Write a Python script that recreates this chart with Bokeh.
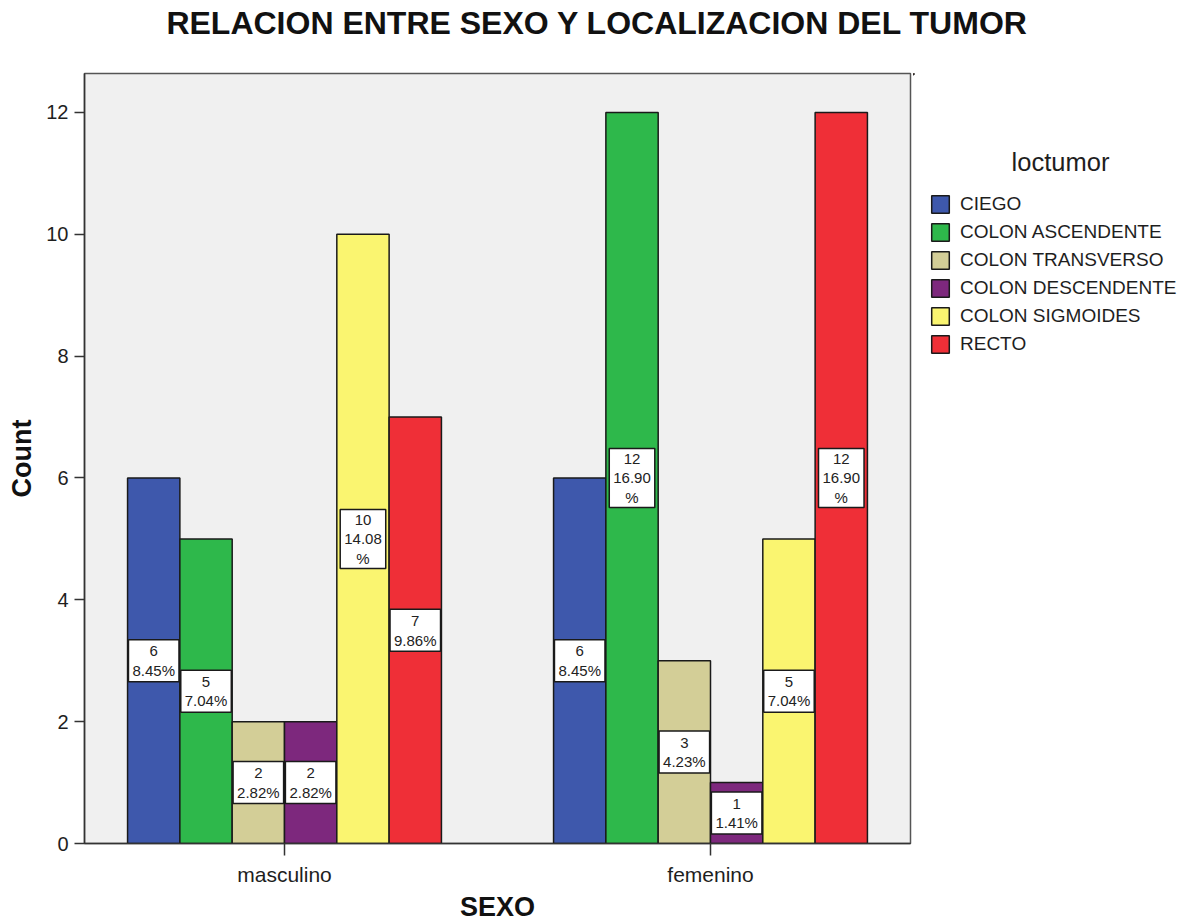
import numpy as np
from bokeh.plotting import figure
from bokeh.layouts import column, row
from bokeh.models import Range1d, FixedTicker, Legend, LegendItem, ColumnDataSource
from bokeh.core.properties import value
from bokeh.embed import file_html
from bokeh.resources import INLINE

# ---- data ----
title_text = "RELACION ENTRE SEXO Y LOCALIZACION DEL TUMOR"
x_title = "SEXO"
y_title = "Count"
legend_title = "loctumor"
sexes = ["masculino", "femenino"]
locations = ["CIEGO", "COLON ASCENDENTE", "COLON TRANSVERSO",
             "COLON DESCENDENTE", "COLON SIGMOIDES", "RECTO"]
masculino = [6, 5, 2, 2, 10, 7]
femenino = [6, 12, 3, 1, 5, 12]
y_ticks = [0, 2, 4, 6, 8, 10, 12]

colors = ["#3e58ac", "#2eb84b", "#d3ce97", "#7d287d", "#faf570", "#ef2f37"]
FONT = "Liberation Sans"
TXT = "#1e1e1e"

counts = np.array([masculino, femenino])
total = counts.sum()

# ---- layout (pixels) ----
W, H = 1190, 924
TOP_H = 71            # title strip height
MAIN_W = 913          # main figure width
FL, FR = 84, 910      # frame left / right
FT, FB = 73, 843      # frame top / bottom (page)

def blank(width, height):
    f = figure(width=width, height=height, output_backend="svg", toolbar_location=None,
               x_range=Range1d(0, width), y_range=Range1d(height, 0),
               x_axis_location=None, y_axis_location=None,
               min_border=0, min_border_left=0, min_border_right=0,
               min_border_top=0, min_border_bottom=0)
    f.grid.visible = False
    f.outline_line_color = None
    f.background_fill_color = "white"
    f.border_fill_color = "white"
    f.title.visible = False
    return f

# title strip
tf = blank(W, TOP_H)
tf.text(x=[597], y=[22], text=[title_text], text_align="center", text_baseline="middle",
        text_font=value(FONT), text_font_size="32px", text_font_style="bold",
        text_color="#111111")

# main chart
MH = H - TOP_H
p = figure(width=MAIN_W, height=MH, output_backend="svg", toolbar_location=None,
           x_range=Range1d(-0.4695, 1.4695), y_range=Range1d(0, 12.64),
           min_border_left=FL, min_border_right=MAIN_W - FR,
           min_border_top=FT - TOP_H, min_border_bottom=MH - (FB - TOP_H))
p.title.visible = False
p.background_fill_color = "#f0f0f0"
p.border_fill_color = "white"
p.outline_line_color = "#555555"
p.outline_line_width = 1.5
p.xgrid.visible = False
p.ygrid.visible = False

bw = 0.1228
n = len(locations)
lab_x, lab_y, lab_t, lab_w, lab_h = [], [], [], [], []

cw = {".": 0.278, "%": 0.889}
def text_w(s, fs=15):
    return max(sum(cw.get(c, 0.556) for c in line) for line in s.split("\n")) * fs

for i, loc in enumerate(locations):
    off = (i - (n - 1) / 2) * bw
    xs = [g + off for g in range(len(sexes))]
    tops = list(counts[:, i])
    p.vbar(x=xs, top=tops, width=bw, fill_color=colors[i],
           line_color="#1a1a1a", line_width=1.5)
    for g in range(len(sexes)):
        v = counts[g, i]
        pct = v / total * 100
        txt = f"{v}\n{pct:.2f}%" if pct < 10 else f"{v}\n{pct:.2f}\n%"
        lines = txt.count("\n") + 1
        lab_x.append(g + off)
        lab_y.append(v / 2)
        lab_t.append(txt)
        lab_w.append(text_w(txt) + 8)
        lab_h.append(lines * 17 + 8)

src = ColumnDataSource(dict(x=lab_x, y=lab_y, t=lab_t, w=lab_w, h=lab_h))
p.rect(x="x", y="y", width="w", height="h", width_units="screen", height_units="screen",
       source=src, fill_color="white", line_color="#1a1a1a", line_width=1.5)
p.text(x="x", y="y", text="t", source=src, text_align="center", text_baseline="middle",
       text_font=value(FONT), text_font_size="15px", text_color="#222222",
       text_line_height=1.15)

for ax in (p.xaxis[0], p.yaxis[0]):
    ax.axis_line_color = "#333333"
    ax.axis_line_width = 1.5
    ax.major_tick_line_color = "#333333"
    ax.major_tick_line_width = 1.5
    ax.major_tick_in = 0
    ax.minor_tick_line_color = None
    ax.major_label_text_font = FONT
    ax.major_label_text_color = TXT
    ax.axis_label_text_font = FONT
    ax.axis_label_text_font_size = "27px"
    ax.axis_label_text_font_style = "bold"
    ax.axis_label_text_color = "#111111"

p.xaxis.ticker = FixedTicker(ticks=list(range(len(sexes))))
p.xaxis.major_label_overrides = {g: s for g, s in enumerate(sexes)}
p.xaxis.major_tick_out = 12
p.xaxis.major_label_standoff = 7
p.xaxis.major_label_text_font_size = "21px"
p.xaxis.axis_label = x_title
p.xaxis.axis_label_standoff = 3
p.yaxis.ticker = FixedTicker(ticks=y_ticks)
p.yaxis.major_tick_out = 10
p.yaxis.major_label_standoff = 6
p.yaxis.major_label_text_font_size = "20px"
p.yaxis.axis_label = y_title
p.yaxis.axis_label_standoff = 6

# legend panel
LW = W - MAIN_W
lf = blank(LW, MH)
items = []
for i, loc in enumerate(locations):
    # hidden carrier renderer (off-canvas) so the legend can draw its swatch
    r = lf.vbar(x=[-10 * LW], top=[1], width=1, fill_color=colors[i],
                line_color="#1a1a1a", line_width=1.5)
    items.append(LegendItem(label=loc, renderers=[r]))
ROW, GAP = 22, 6
LEG_BOX_H = 250  # rendered legend box height (measured)
legend = Legend(items=items, location=(929 - MAIN_W, MH - (186 - TOP_H) - LEG_BOX_H),
                padding=0, margin=0, spacing=GAP, glyph_width=22, glyph_height=ROW,
                label_height=ROW, label_standoff=9, label_text_font=FONT,
                label_text_font_size="19px", label_text_color=TXT,
                border_line_alpha=0, background_fill_alpha=0)
lf.add_layout(legend)
lf.text(x=[1060 - MAIN_W], y=[169 - TOP_H], text=[legend_title], text_align="center",
        text_baseline="middle", text_font=value(FONT), text_font_size="25.5px",
        text_color=TXT)

layout = column(tf, row(p, lf, spacing=0), spacing=0)
open("out.html", "w").write(file_html(layout, INLINE))
